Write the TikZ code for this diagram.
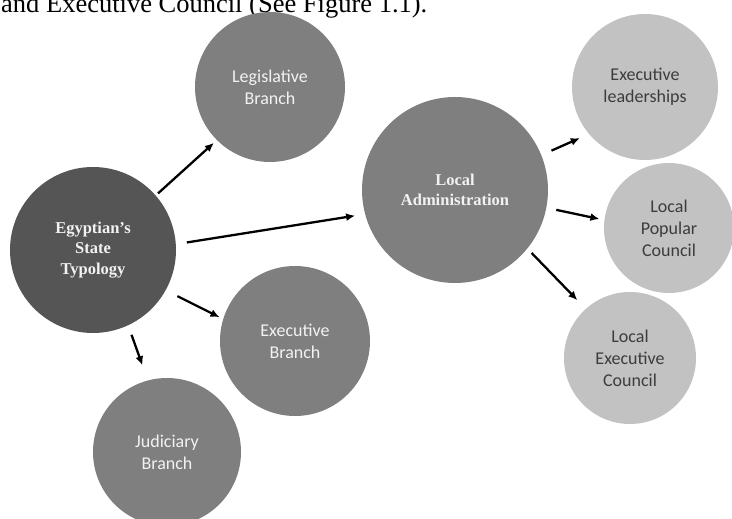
\documentclass[tikz,border=0pt]{standalone}
\usepackage{fontspec}
\setmainfont{Liberation Serif}
\newfontfamily\calib{Carlito}
\usetikzlibrary{arrows.meta}
\definecolor{darkc}{HTML}{555555}
\definecolor{midc}{HTML}{7F7F7F}
\definecolor{lightc}{HTML}{C2C2C2}
\definecolor{softwhite}{HTML}{F2F2F2}
\definecolor{textdark}{HTML}{3C3C3C}
\begin{document}
\begin{tikzpicture}[x=1pt,y=1pt,
  bub/.style={circle, inner sep=0pt, align=center},
  serifbold/.style={font=\fontsize{16.5}{20.5}\selectfont\bfseries},
  sansbub/.style={font=\calib\fontsize{18}{22}\selectfont},
  darkbub/.style={bub, fill=darkc, text=softwhite, serifbold},
  midbub/.style={bub, fill=midc, text=softwhite, sansbub},
  lightbub/.style={bub, fill=lightc, text=textdark, sansbub},
  arr/.style={-{Latex[length=9pt,width=8pt]}, line width=2.3pt, black}]
\useasboundingbox (0,0) rectangle (732,519);
\clip (0,0) rectangle (732,519);
\node[anchor=base west, font=\fontsize{26.5}{30}\selectfont, inner sep=0pt] (cap) at (1,506) {and Executive Council (See Figure 1.1).};

\node[darkbub, minimum size=166pt] (egy) at (93,269) {Egyptian's\\State\\Typology};
\node[midbub, minimum size=150pt] (leg) at (270,432) {Legislative\\Branch};
\node[midbub, serifbold, minimum size=186pt] (la) at (455,329) {Local\\Administration};
\node[lightbub, minimum size=146pt] (el) at (645,432) {Executive\\leaderships};
\node[lightbub, minimum size=130pt] (lpc) at (669,291) {Local\\Popular\\Council};
\node[lightbub, minimum size=132pt] (lec) at (630,161) {Local\\Executive\\Council};
\node[midbub, minimum size=150pt] (exb) at (295,178) {Executive\\Branch};
\node[midbub, minimum size=148pt] (jud) at (167,67) {Judiciary\\Branch};

\draw[arr, shorten <=3pt, shorten >=4pt] (egy.41) -- (leg.225);
\draw[arr, shorten <=11pt, shorten >=10pt] (egy.4) -- (la.195);
\draw[arr, shorten <=13pt, shorten >=4pt] (egy.-29) -- (exb.163);
\draw[arr, shorten <=10pt, shorten >=16pt] (egy.-65) -- (jud.105);
\draw[arr, shorten <=11pt, shorten >=10pt] (la.22) -- (el.220);
\draw[arr, shorten <=10pt, shorten >=5pt] (la.-11) -- (lpc.173);
\draw[arr, shorten <=6pt, shorten >=12pt] (la.-39) -- (lec.132);
\end{tikzpicture}
\end{document}
